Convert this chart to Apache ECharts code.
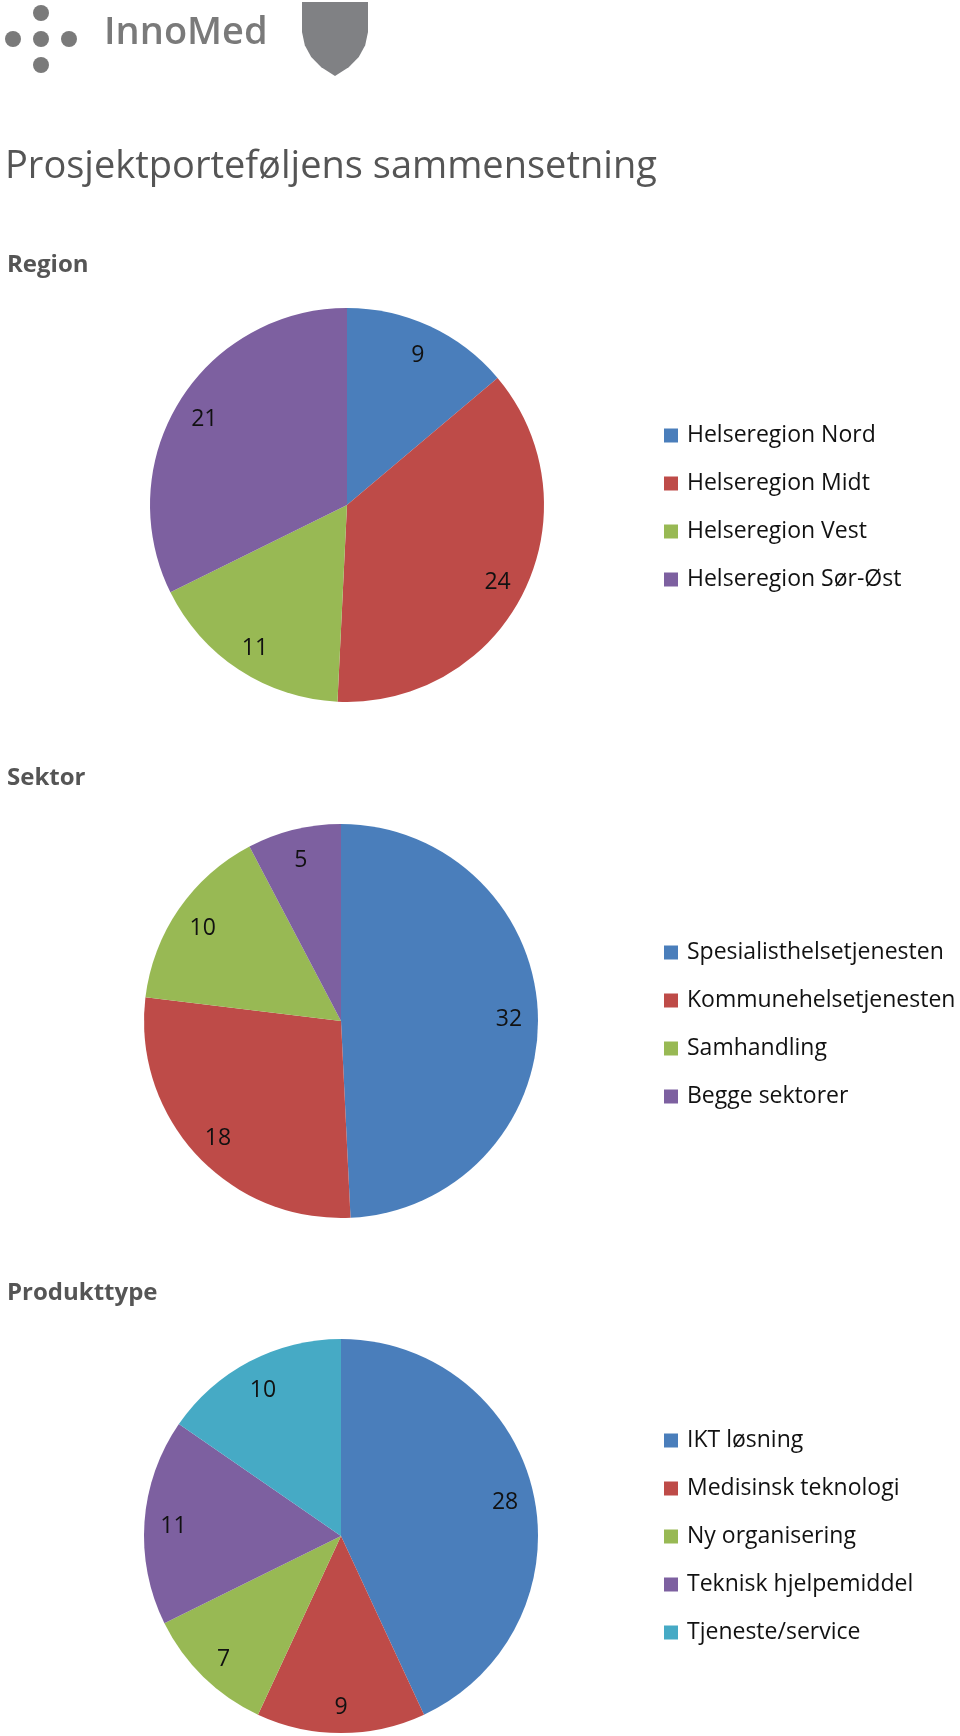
<!DOCTYPE html>
<html>
<head>
<meta charset="utf-8">
<script src="https://cdn.jsdelivr.net/npm/echarts@6/dist/echarts.min.js"></script>
<style>
  html, body { margin: 0; padding: 0; background: #fff; }
  #chart { width: 960px; height: 1736px; }
</style>
</head>
<body>
<div id="chart"></div>
<script>
const regionNames = ['Helseregion Nord', 'Helseregion Midt', 'Helseregion Vest', 'Helseregion Sør-Øst'];
const regionValues = [9, 24, 11, 21];

const sektorNames = ['Spesialisthelsetjenesten', 'Kommunehelsetjenesten', 'Samhandling', 'Begge sektorer'];
const sektorValues = [32, 18, 10, 5];

const produktNames = ['IKT løsning', 'Medisinsk teknologi', 'Ny organisering', 'Teknisk hjelpemiddel', 'Tjeneste/service'];
const produktValues = [28, 9, 7, 11, 10];

const sliceColors = ['#4A7EBB', '#BE4B48', '#98B954', '#7D60A0', '#46AAC5'];

const FONT = "'Open Sans', sans-serif";

const toData = (names, values) =>
  names.map((n, i) => ({ name: n, value: values[i], itemStyle: { color: sliceColors[i] } }));

// one visible pie + a transparent ring that only carries the labels near the rim
function pieSeries(names, values, center) {
  return [
    {
      type: 'pie',
      center: center,
      radius: [0, 197],
      startAngle: 90,
      data: toData(names, values),
      label: { show: false },
      labelLine: { show: false },
      itemStyle: { borderWidth: 0 },
      emphasis: { disabled: true },
      silent: true,
    },
    {
      type: 'pie',
      center: center,
      radius: [132, 198],
      startAngle: 90,
      data: names.map((n, i) => ({ name: n, value: values[i] })),
      itemStyle: { color: 'rgba(0,0,0,0)', borderWidth: 0 },
      label: {
        show: true,
        position: 'inside',
        formatter: '{c}',
        color: '#111',
        fontSize: 23,
        fontFamily: FONT,
        offset: [0, 3],
      },
      labelLine: { show: false },
      emphasis: { disabled: true },
      silent: true,
    },
  ];
}

function legendFor(names, top) {
  return {
    data: names,
    orient: 'vertical',
    left: 664,
    top: top,
    padding: 0,
    icon: 'rect',
    itemWidth: 14,
    itemHeight: 14,
    itemGap: 25,
    selectedMode: false,
    textStyle: { fontSize: 23, fontFamily: FONT, color: '#111', lineHeight: 23, padding: [0, 0, 0, 4] },
  };
}

function heading(text, top) {
  return {
    text: text,
    left: 2,
    top: top,
    textStyle: { fontSize: 24, fontWeight: 'bold', color: '#555', fontFamily: FONT },
  };
}

const chart = echarts.init(document.getElementById('chart'));

chart.setOption({
  backgroundColor: '#fff',
  animation: false,
  title: [
    {
      text: 'Prosjektporteføljens sammensetning',
      left: 0,
      top: 143,
      textStyle: { fontSize: 38, fontWeight: 'normal', color: '#555', fontFamily: FONT },
    },
    heading('Region', 248),
    heading('Sektor', 761),
    heading('Produkttype', 1276),
  ],
  legend: [
    legendFor(regionNames, 424),
    legendFor(sektorNames, 941),
    legendFor(produktNames, 1429),
  ],
  graphic: [
    { type: 'circle', shape: { cx: 41, cy: 13, r: 8 }, style: { fill: '#7a7a7a' } },
    { type: 'circle', shape: { cx: 13, cy: 39, r: 8 }, style: { fill: '#7a7a7a' } },
    { type: 'circle', shape: { cx: 41, cy: 39, r: 8 }, style: { fill: '#7a7a7a' } },
    { type: 'circle', shape: { cx: 69, cy: 39, r: 8 }, style: { fill: '#7a7a7a' } },
    { type: 'circle', shape: { cx: 41, cy: 65, r: 8 }, style: { fill: '#7a7a7a' } },
    {
      type: 'text',
      x: 104,
      y: 14,
      style: { text: 'InnoMed', fill: '#7a7a7a', fontSize: 38, fontWeight: 600, fontFamily: FONT },
    },
    {
      type: 'polygon',
      shape: {
        points: [
          [302, 2], [368, 2], [368, 32], [365.2, 45.3], [358.8, 57], [348.7, 67.3], [335, 76],
          [321.3, 67.3], [311.2, 57], [304.8, 45.3], [302, 32],
        ],
      },
      style: { fill: '#808184' },
    },
  ],
  series: [
    ...pieSeries(regionNames, regionValues, [347, 505]),
    ...pieSeries(sektorNames, sektorValues, [341, 1021]),
    ...pieSeries(produktNames, produktValues, [341, 1536]),
  ],
});
</script>
</body>
</html>
